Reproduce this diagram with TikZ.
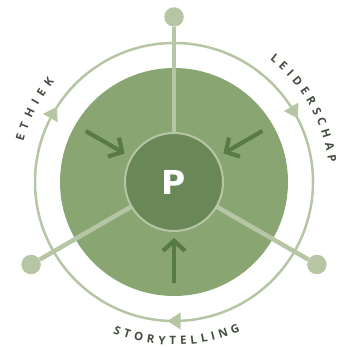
\documentclass[tikz,border=0pt]{standalone}
\usepackage{fontspec}
\setmainfont{Open Sans}
\newfontfamily\pfont{DejaVu Sans}
\usetikzlibrary{arrows.meta,decorations.text}
\definecolor{ringc}{HTML}{B6C6A4}
\definecolor{diskc}{HTML}{89A672}
\definecolor{innerc}{HTML}{6A8757}
\definecolor{arrc}{HTML}{587A46}
\definecolor{txtc}{HTML}{434E40}
\tikzset{
  dot/.style={circle, fill=ringc, minimum size=19.5, inner sep=0},
  spoke/.style={draw=ringc, line width=4.5},
  inarrow/.style={draw=arrc, line width=4.2, -{Straight Barb[length=10,width=22]}},
  arclabel/.style={decorate, decoration={text along path, text color=txtc,
     text align=fit to path, text={|\bfseries\fontsize{11.5}{11.5}\selectfont|#1}}},
  ringtri/.style={fill=ringc}
}
\begin{document}
\begin{tikzpicture}[x=1pt,y=1pt]
\useasboundingbox (0,0) rectangle (337,347);
\coordinate (c) at (174,165);
% outer ring
\draw[ringc, line width=2.5] (c) circle (139);
% disk
\fill[diskc] (c) circle (114);
% dots
\path (c) ++(90:165) node[dot] (d1) {};
\path (c) ++(210:165) node[dot] (d2) {};
\path (c) ++(-30:165) node[dot] (d3) {};
% spokes
\draw[spoke] (c) -- (d1);
\draw[spoke] (c) -- (d2);
\draw[spoke] (c) -- (d3);
% inner circle
\node[circle, fill=innerc, draw=ringc, line width=2, minimum size=98, inner sep=0, text=white] (p) at (c) {\pfont\bfseries\fontsize{33}{33}\selectfont P};
% inward arrows
\path (c) ++(150:102) coordinate (a1s) (c) ++(150:57) coordinate (a1e);
\path (c) ++(30:102) coordinate (a2s) (c) ++(30:57) coordinate (a2e);
\path (c) ++(270:101) coordinate (a3s) (c) ++(270:56) coordinate (a3e);
\draw[inarrow] (a1s) -- (a1e);
\draw[inarrow] (a2s) -- (a2e);
\draw[inarrow] (a3s) -- (a3e);
% ring triangles (clockwise)
\fill[ringtri, shift={(c)}, rotate=150] (139,-6.5) -- (147.5,6.5) -- (130.5,6.5) -- cycle;
\fill[ringtri, shift={(c)}, rotate=30] (139,-6.5) -- (147.5,6.5) -- (130.5,6.5) -- cycle;
\fill[ringtri, shift={(c)}, rotate=270] (139,-6.5) -- (147.5,6.5) -- (130.5,6.5) -- cycle;
% labels along arcs
\path[arclabel={ETHIEK}] (c) ++(165:156) arc[start angle=165, end angle=140, radius=156];
\path[arclabel={LEIDERSCHAP}] (c) ++(52:155.5) arc[start angle=52, end angle=7, radius=155.5];
\path[arclabel={STORYTELLING}] (c) ++(248:163) arc[start angle=248, end angle=294, radius=163];
\end{tikzpicture}
\end{document}
